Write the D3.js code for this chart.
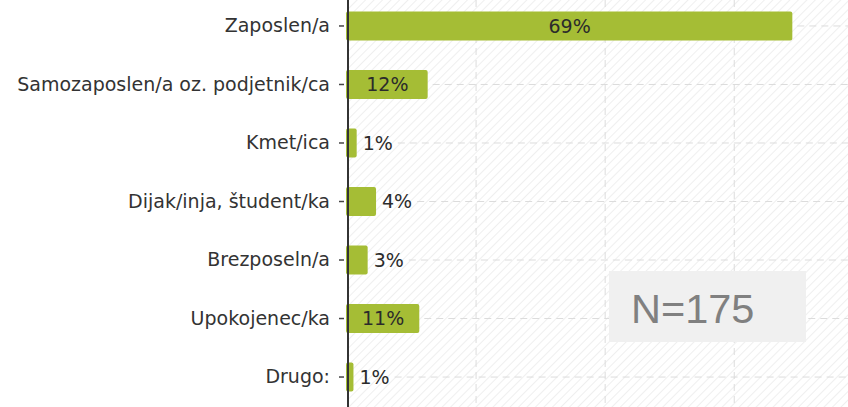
<!DOCTYPE html>
<html>
<head>
<meta charset="utf-8">
<script src="https://cdn.jsdelivr.net/npm/d3@7"></script>
<style>
  html, body { margin: 0; padding: 0; background: #fff; }
  svg { display: block; }
</style>
</head>
<body>
<svg id="chart" width="848" height="407"></svg>
<script>
// ---- data ----
const categories = [
  "Zaposlen/a",
  "Samozaposlen/a oz. podjetnik/ca",
  "Kmet/ica",
  "Dijak/inja, študent/ka",
  "Brezposeln/a",
  "Upokojenec/ka",
  "Drugo:"
];
const values = [69.0, 12.5, 1.5, 4.5, 3.2, 11.2, 1.0];
const valueLabels = ["69%", "12%", "1%", "4%", "3%", "11%", "1%"];
const xTicks = [20, 40, 60, 80];
const sampleNote = "N=175";

// ---- setup ----
const W = 848, H = 407;
const svg = d3.select("#chart");
const axisX = 347;

const x = d3.scaleLinear().domain([0, 100]).range([axisX, axisX + 645.4]);
const y = d3.scaleBand().domain(categories).range([-2, 405])
  .paddingInner(0.504).paddingOuter(0.23);

// background hatch
const defs = svg.append("defs");
const pat = defs.append("pattern")
  .attr("id", "hatch").attr("patternUnits", "userSpaceOnUse")
  .attr("width", 6).attr("height", 6)
  .attr("patternTransform", "rotate(45)");
pat.append("rect").attr("width", 6).attr("height", 6).attr("fill", "#ffffff");
pat.append("line").attr("x1", 0).attr("y1", 0).attr("x2", 0).attr("y2", 6)
  .attr("stroke", "#efefef").attr("stroke-width", 2);

svg.append("rect").attr("x", 0).attr("y", 0).attr("width", W).attr("height", H)
  .attr("fill", "#fff");
svg.append("rect").attr("x", axisX).attr("y", 0).attr("width", W - axisX).attr("height", H)
  .attr("fill", "url(#hatch)");

// vertical grid lines
svg.append("g").selectAll("line").data(xTicks).join("line")
  .attr("x1", d => x(d)).attr("x2", d => x(d))
  .attr("y1", 0).attr("y2", H)
  .attr("stroke", "#dcdcdc").attr("stroke-width", 1)
  .attr("stroke-dasharray", "7,5");

const font = "'DejaVu Sans', Verdana, sans-serif";
const fs = 19;

// measure label extents for horizontal grid line start
const rows = categories.map((c, i) => ({ c, v: values[i], lab: valueLabels[i] }));
const measure = svg.append("text").attr("font-family", font).attr("font-size", fs)
  .attr("visibility", "hidden");
rows.forEach(r => {
  measure.text(r.lab);
  r.tw = measure.node().getComputedTextLength();
  r.inside = (x(r.v) - x(0)) > r.tw + 14;
  r.lx = r.inside ? (x(0) + x(r.v)) / 2 : x(r.v) + 6;
  r.end = r.inside ? x(r.v) : r.lx + r.tw;
});
measure.remove();

// horizontal grid lines
svg.append("g").selectAll("line").data(rows).join("line")
  .attr("x1", d => d.end + 5).attr("x2", W)
  .attr("y1", d => y(d.c) + y.bandwidth() / 2).attr("y2", d => y(d.c) + y.bandwidth() / 2)
  .attr("stroke", "#dcdcdc").attr("stroke-width", 1)
  .attr("stroke-dasharray", "7,5");

// N box
const boxG = svg.append("g");
boxG.append("rect").attr("x", 609).attr("y", 271).attr("width", 197).attr("height", 71)
  .attr("fill", "#f0f0f0");
boxG.append("text").attr("x", 631).attr("y", 322.5)
  .attr("font-family", "'Liberation Sans', Arial, sans-serif")
  .attr("font-size", 41.5).attr("fill", "#808080").text(sampleNote);

// bars
svg.append("g").selectAll("rect").data(rows).join("rect")
  .attr("x", x(0) - 1)
  .attr("y", d => y(d.c))
  .attr("width", d => x(d.v) - x(0) + 1)
  .attr("height", y.bandwidth())
  .attr("rx", 2)
  .attr("fill", "#a5bd35");

// value labels
svg.append("g").selectAll("text").data(rows).join("text")
  .attr("x", d => d.lx)
  .attr("y", d => y(d.c) + y.bandwidth() / 2)
  .attr("dy", "0.36em")
  .attr("text-anchor", d => d.inside ? "middle" : "start")
  .attr("font-family", font).attr("font-size", fs)
  .attr("fill", "#2b2b2b")
  .text(d => d.lab);

// y axis
const yAxis = d3.axisLeft(y).tickSize(0).tickPadding(17);
const ag = svg.append("g").attr("transform", `translate(${axisX},0)`).call(yAxis);
ag.select(".domain").remove();
ag.selectAll(".tick text")
  .attr("font-family", font).attr("font-size", fs).attr("fill", "#333");
ag.selectAll(".tick").append("line")
  .attr("x1", -8).attr("x2", -3).attr("y1", 0).attr("y2", 0)
  .attr("stroke", "#444").attr("stroke-width", 1.5);

// axis line
svg.append("line").attr("x1", axisX + 1).attr("x2", axisX + 1).attr("y1", 0).attr("y2", H)
  .attr("stroke", "#333").attr("stroke-width", 2);
</script>
</body>
</html>
